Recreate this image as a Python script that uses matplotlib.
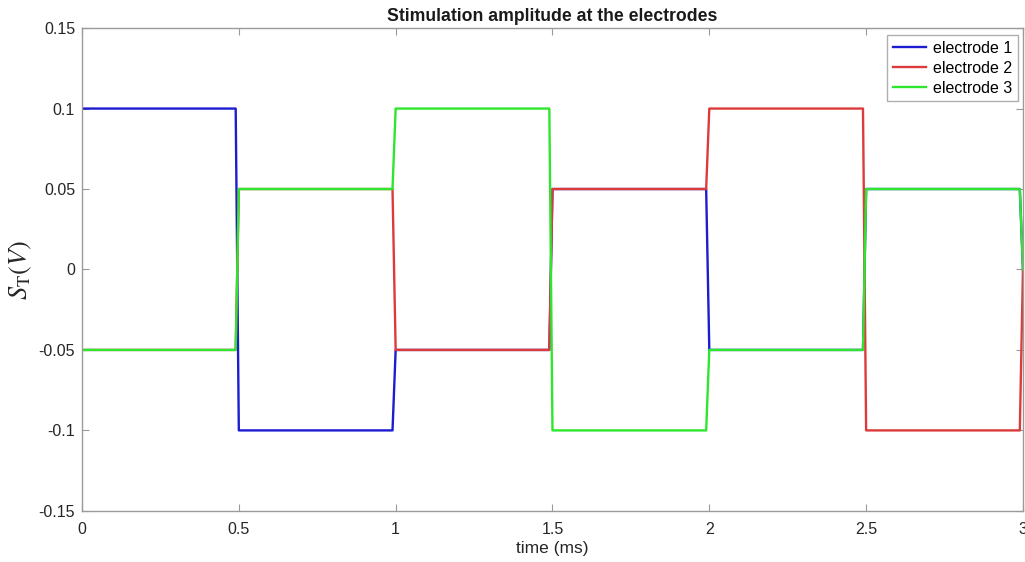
import matplotlib.pyplot as plt

plt.rcParams['font.family'] = ['Liberation Sans', 'DejaVu Sans']
plt.rcParams['mathtext.fontset'] = 'stix'

# sample times (ms) around each switching instant
t = [0.0, 0.49, 0.5, 0.99, 1.0, 1.49, 1.5, 1.99, 2.0, 2.49, 2.5, 2.99, 3.0]

# amplitude (V) at each sample time
e1 = [0.1, 0.1, -0.1, -0.1, -0.05, -0.05, 0.05, 0.05, -0.05, -0.05, 0.05, 0.05, 0.0]
e2 = [-0.05, -0.05, 0.05, 0.05, -0.05, -0.05, 0.05, 0.05, 0.1, 0.1, -0.1, -0.1, 0.0]
e3 = [-0.05, -0.05, 0.05, 0.05, 0.1, 0.1, -0.1, -0.1, -0.05, -0.05, 0.05, 0.05, 0.0]

xticks = [0, 0.5, 1, 1.5, 2, 2.5, 3]
xticklabels = ['0', '0.5', '1', '1.5', '2', '2.5', '3']
yticks = [-0.15, -0.1, -0.05, 0, 0.05, 0.1, 0.15]
yticklabels = ['-0.15', '-0.1', '-0.05', '0', '0.05', '0.1', '0.15']

fig = plt.figure(figsize=(10.25, 5.62), dpi=100)
ax = fig.add_axes([0.080, 0.091, 0.918, 0.859])

ax.plot(t, e1, color='#1c1cd0', lw=1.7, label='electrode 1')
ax.plot(t, e2, color='#dd3b3b', lw=1.7, label='electrode 2')
ax.plot(t, e3, color='#2ee62e', lw=1.7, label='electrode 3')

ax.set_xlim(0, 3)
ax.set_ylim(-0.15, 0.15)
ax.set_xticks(xticks)
ax.set_xticklabels(xticklabels)
ax.set_yticks(yticks)
ax.set_yticklabels(yticklabels)

for s in ax.spines.values():
    s.set_color('#9a9a9a')
    s.set_linewidth(1)
ax.tick_params(direction='in', length=5, color='#9a9a9a', labelcolor='#262626',
               labelsize=11.5, top=True, right=True)
ax.tick_params(axis='x', pad=8)
ax.tick_params(axis='y', pad=5)

ax.set_title('Stimulation amplitude at the electrodes', fontsize=12.7,
             fontweight='bold', color='#1a1a1a', pad=5)
ax.set_xlabel('time (ms)', fontsize=12.5, color='#262626', labelpad=3)
ax.set_ylabel(r'$S_{\mathrm{T}}(V)$', fontsize=19, color='#262626', labelpad=3)

leg = ax.legend(loc='upper right', fontsize=11.5, frameon=True, fancybox=False,
                handlelength=2.1, handletextpad=0.45, borderpad=0.35,
                labelspacing=0.3, borderaxespad=0,
                bbox_to_anchor=(0.995, 0.985))
leg.get_frame().set_edgecolor('#9a9a9a')
leg.get_frame().set_linewidth(1)

fig.savefig('out.png', dpi=100)
